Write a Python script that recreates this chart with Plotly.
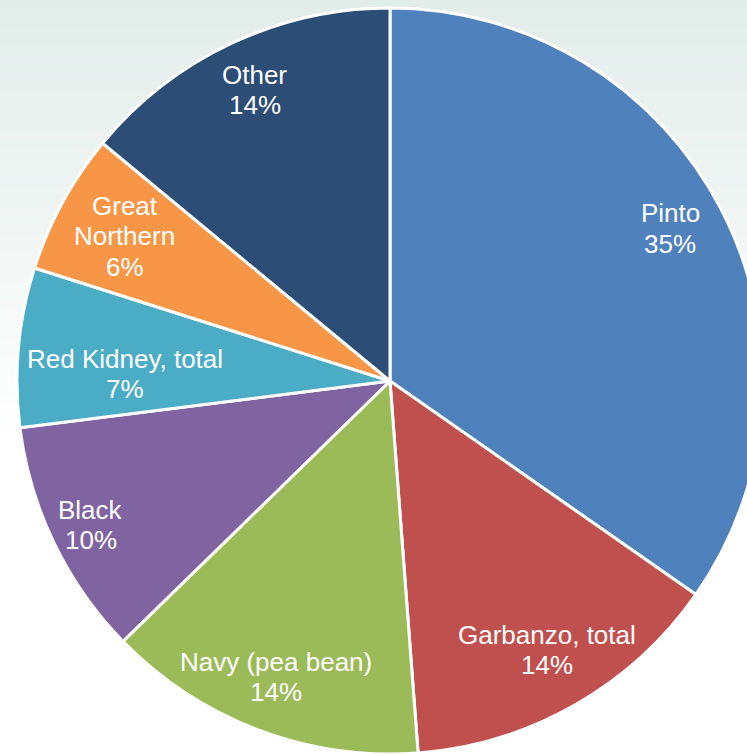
import math
import plotly.graph_objects as go

# ---- data ----
labels = ["Pinto", "Garbanzo, total", "Navy (pea bean)", "Black",
          "Red Kidney, total", "Great Northern", "Other"]
values = [34.7, 14.1, 13.9, 10.3, 6.9, 6.1, 14.0]

# ---- style ----
label_lines = [["Pinto"], ["Garbanzo, total"], ["Navy (pea bean)"], ["Black"],
               ["Red Kidney, total"], ["Great", "Northern"], ["Other"]]
colors = ["#4F81BD", "#C0504D", "#9BBB59", "#8064A2",
          "#4BACC6", "#F79646", "#2C4D75"]
label_radius = [0.855, 0.835, 0.85, 0.89, 0.71, 0.81, 0.86]
label_angle_shift = [-1.0, -0.6, 0.3, 0.0, -3.7, 0.0, 0.3]  # degrees
line_gap = 30.5
font_size = 26

W, H = 780, 760
R_PX = 373
CX_PX, CY_PX = 390, 381  # from top-left
dom_x = [(CX_PX - R_PX) / W, (CX_PX + R_PX) / W]
dom_y = [(H - CY_PX - R_PX) / H, (H - CY_PX + R_PX) / H]

fig = go.Figure()
fig.add_trace(go.Pie(
    labels=labels, values=values, sort=False, direction="clockwise",
    rotation=0, textinfo="none", hoverinfo="label+percent",
    marker=dict(colors=colors, line=dict(color="white", width=3)),
    domain=dict(x=dom_x, y=dom_y), showlegend=False,
))

# label positions derived from the slice angles
total = sum(values)
cx = (dom_x[0] + dom_x[1]) / 2 * W
cy = (dom_y[0] + dom_y[1]) / 2 * H
r = min((dom_x[1] - dom_x[0]) * W, (dom_y[1] - dom_y[0]) * H) / 2
cum = 0.0
annotations = []
for lines, v, f, da in zip(label_lines, values, label_radius, label_angle_shift):
    mid = (cum + v / 2) / total * 2 * math.pi + math.radians(da)
    cum += v
    px = cx + f * r * math.sin(mid)
    py = cy + f * r * math.cos(mid)
    pct = round(v / total * 100)
    all_lines = lines + [f"{pct}%"]
    n = len(all_lines)
    for i, txt in enumerate(all_lines):
        annotations.append(dict(
            x=px / W, y=py / H, xref="paper", yref="paper",
            text=txt, showarrow=False,
            yshift=((n - 1) / 2 - i) * line_gap,
            font=dict(family="Liberation Sans, Arial, sans-serif",
                      size=font_size, color="white"),
            xanchor="center", yanchor="middle",
        ))

# background vertical gradient
shapes = []
n = 50
top = (226, 237, 234)
for i in range(n):
    t = i / (n - 1)
    c = tuple(round(top[k] + (255 - top[k]) * min(1, t * 1.05)) for k in range(3))
    y0 = 1 - i / n * 0.62
    y1 = 1 - (i + 1) / n * 0.62
    shapes.append(dict(type="rect", xref="paper", yref="paper", x0=0, x1=1,
                       y0=y1, y1=y0 + 0.002, fillcolor=f"rgb{c}",
                       line=dict(width=0), layer="below"))

fig.update_layout(
    width=W, height=H, margin=dict(l=0, r=0, t=0, b=0),
    paper_bgcolor="white", plot_bgcolor="white",
    annotations=annotations, shapes=shapes,
)

fig.write_html("out.html", config={"displayModeBar": False}, post_script=(
    "document.body.style.margin='0';"
    "document.body.style.overflow='hidden';"
    "document.documentElement.style.overflow='hidden';"
))
